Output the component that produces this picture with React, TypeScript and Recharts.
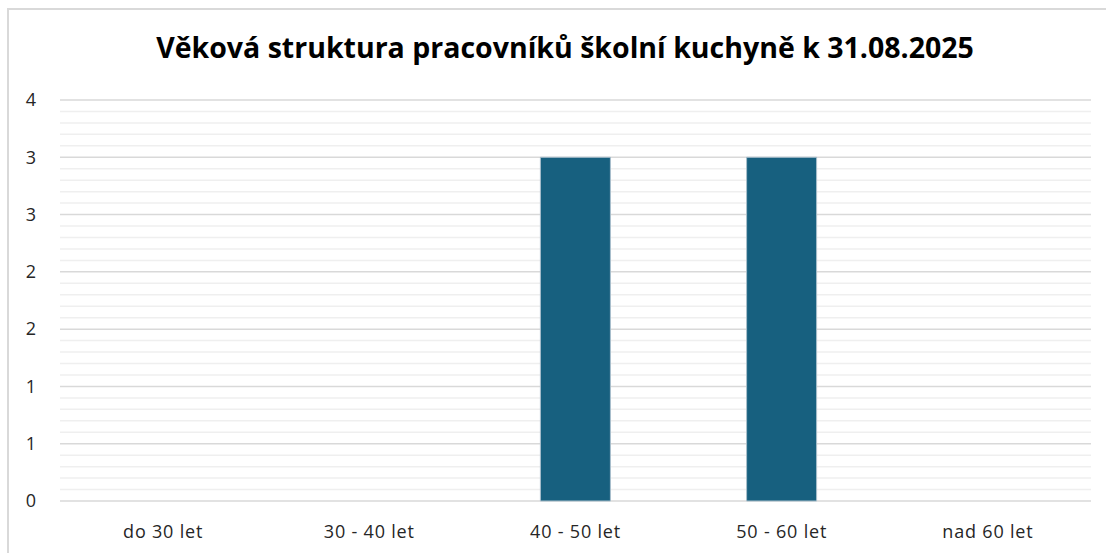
import React from "react";
import {
  BarChart,
  Bar,
  XAxis,
  YAxis,
  CartesianGrid,
} from "recharts";

const categories = ["do 30 let", "30 - 40 let", "40 - 50 let", "50 - 60 let", "nad 60 let"];
const counts = [0, 0, 3, 3, 0];
const yMax = 3.5;
const yTicks = [0, 0.5, 1, 1.5, 2, 2.5, 3, 3.5];
const minorTicks = [
  0.1, 0.2, 0.3, 0.4, 0.6, 0.7, 0.8, 0.9, 1.1, 1.2, 1.3, 1.4, 1.6, 1.7, 1.8, 1.9,
  2.1, 2.2, 2.3, 2.4, 2.6, 2.7, 2.8, 2.9, 3.1, 3.2, 3.3, 3.4,
];

const data = categories.map((name, i) => ({ name, value: counts[i] }));

const FONT = "'Open Sans', sans-serif";

function YTick(props: any) {
  const { y, payload } = props;
  return (
    <text x={31} y={y} dy="0.35em" textAnchor="middle" fontSize={18} fill="#262626" fontFamily={FONT}>
      {Math.round(payload.value)}
    </text>
  );
}

// minor gridlines every 0.1, mapped through the y axis scale
const minorLines = ({ yAxis, offset }: any) =>
  minorTicks.map((v) =>
    yAxis && typeof yAxis.scale === "function"
      ? yAxis.scale(v)
      : offset.top + offset.height * (1 - v / yMax)
  );

export default function App() {
  return (
    <div style={{ position: "relative", width: 1106, height: 553, overflow: "hidden" }}>
      <style>{"body{margin:0;overflow:hidden}"}</style>
      <div
        style={{
          position: "absolute",
          left: 7,
          top: 8,
          width: 1110,
          height: 560,
          borderTop: "2px solid #d9d9d9",
          borderLeft: "2px solid #d9d9d9",
        }}
      />
      <div
        style={{
          position: "absolute",
          left: 0,
          top: 28,
          width: 1130,
          textAlign: "center",
          fontFamily: FONT,
          fontWeight: 700,
          fontSize: 28.5,
          color: "#000",
        }}
      >
        Věková struktura pracovníků školní kuchyně k 31.08.2025
      </div>
      <div style={{ position: "absolute", left: 0, top: 0 }}>
        <BarChart
          width={1106}
          height={553}
          data={data}
          margin={{ top: 100, right: 15, bottom: 12, left: 8 }}
        >
          <CartesianGrid
            vertical={false}
            horizontalCoordinatesGenerator={minorLines}
            stroke="#efefef"
            strokeWidth={1.5}
          />
          <CartesianGrid vertical={false} stroke="#d9d9d9" strokeWidth={1.5} />
          <XAxis
            dataKey="name"
            axisLine={false}
            tickLine={false}
            height={40}
            tick={{ fontSize: 18, fill: "#262626", fontFamily: FONT, letterSpacing: 0.8 }}
            tickMargin={18}
          />
          <YAxis
            width={52}
            domain={[0, yMax]}
            ticks={yTicks}
            axisLine={false}
            tickLine={false}
            tick={<YTick />}
          />
          <Bar
            dataKey="value"
            fill="#17607f"
            stroke="#a9bfcc"
            strokeWidth={1}
            barSize={70}
            isAnimationActive={false}
          />
        </BarChart>
      </div>
    </div>
  );
}
